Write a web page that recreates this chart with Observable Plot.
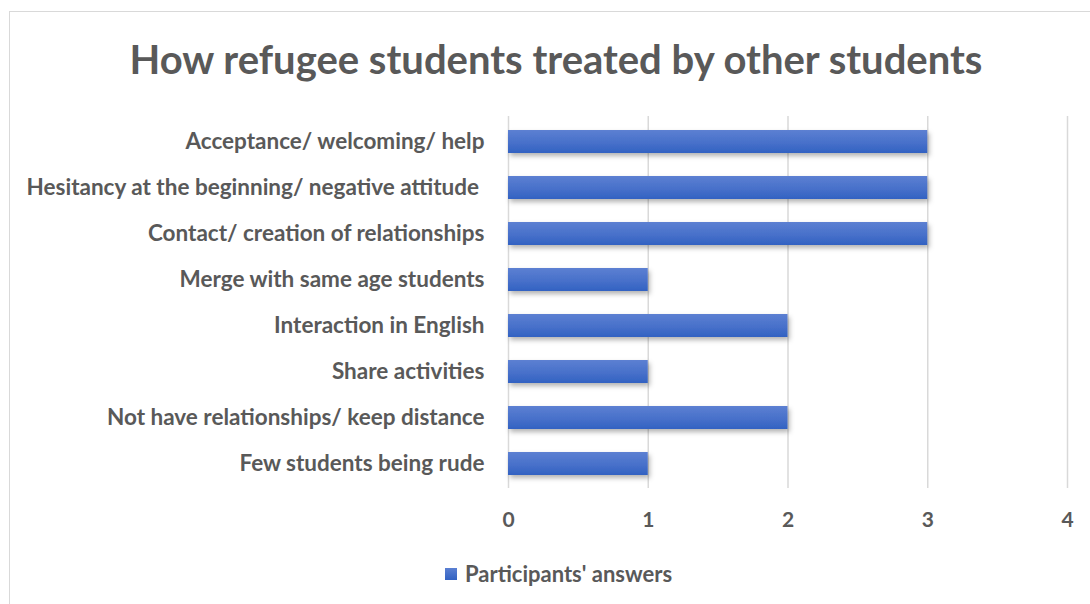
<!DOCTYPE html>
<html>
<head>
<meta charset="utf-8">
<script src="https://cdn.jsdelivr.net/npm/d3@7"></script>
<script src="https://cdn.jsdelivr.net/npm/@observablehq/plot@0.6"></script>
<style>
  html, body { margin: 0; padding: 0; background: #fff; overflow: hidden; }
  body { width: 1090px; height: 604px; position: relative; font-family: Lato, "Open Sans", sans-serif; }
  #frame { position: absolute; left: 9px; top: 11px; width: 1100px; height: 620px; border: 1px solid #d9d9d9; box-sizing: border-box; }
  #title { position: absolute; left: 0; top: 34px; width: 1112px; text-align: center; font-size: 40px; line-height: 50px; font-weight: bold; color: #595959; white-space: nowrap; }
  #chart { position: absolute; left: 0; top: 100px; }
  #legend { position: absolute; left: 445px; top: 560px; font-size: 22px; line-height: 28px; font-weight: bold; color: #595959; display: flex; align-items: center; white-space: nowrap; }
  #legend .sw { width: 12px; height: 12px; background: linear-gradient(#5b80d2, #3262c2); margin-right: 8px; }
</style>
</head>
<body>
<div id="frame"></div>
<div id="title">How refugee students treated by other students</div>
<div id="chart"></div>
<div id="legend"><span class="sw"></span><span>Participants' answers</span></div>
<script>
const categories = [
  "Acceptance/ welcoming/ help",
  "Hesitancy at the beginning/ negative attitude ",
  "Contact/ creation of relationships",
  "Merge with same age students",
  "Interaction in English",
  "Share activities",
  "Not have relationships/ keep distance",
  "Few students being rude"
];
const values = [3, 3, 3, 1, 2, 1, 2, 1];
const xTicks = [0, 1, 2, 3, 4];
const seriesName = "Participants' answers";

const data = categories.map((c, i) => ({category: c, value: values[i]}));

const plot = Plot.plot({
  width: 1090,
  height: 440,
  marginTop: 16,
  marginBottom: 52,
  marginLeft: 508,
  marginRight: 23,
  style: {fontFamily: "Lato, 'Open Sans', sans-serif", background: "transparent", overflow: "visible"},
  x: {domain: [0, 4], ticks: xTicks, label: null},
  y: {domain: categories, label: null, paddingInner: 0.5, paddingOuter: 0.25},
  marks: [
    Plot.ruleX(xTicks, {stroke: "#d9d9d9", strokeWidth: 1.5}),
    Plot.barX(data, {x: "value", y: "category", fill: "url(#barGrad)"}),
    Plot.axisX({ticks: xTicks, tickFormat: d3.format("d"), tickSize: 0, tickPadding: 24, fontSize: 21, fontWeight: "bold", fill: "#595959", label: null}),
    Plot.axisY({tickSize: 0, tickPadding: 24, fontSize: 22.5, fontWeight: "bold", fill: "#595959", label: null})
  ]
});

const ns = "http://www.w3.org/2000/svg";
const defs = document.createElementNS(ns, "defs");
defs.innerHTML = `
  <linearGradient id="barGrad" x1="0" y1="0" x2="0" y2="1">
    <stop offset="0" stop-color="#5c80d2"/>
    <stop offset="0.5" stop-color="#4a72cb"/>
    <stop offset="1" stop-color="#3262c2"/>
  </linearGradient>
  <filter id="barShadow" x="-5%" y="-30%" width="115%" height="180%">
    <feDropShadow dx="2" dy="3" stdDeviation="2.5" flood-color="#000" flood-opacity="0.3"/>
  </filter>`;
plot.insertBefore(defs, plot.firstChild);
d3.select(plot).selectAll('g[aria-label="bar"] rect').attr("filter", "url(#barShadow)");
document.getElementById("chart").appendChild(plot);
</script>
</body>
</html>
